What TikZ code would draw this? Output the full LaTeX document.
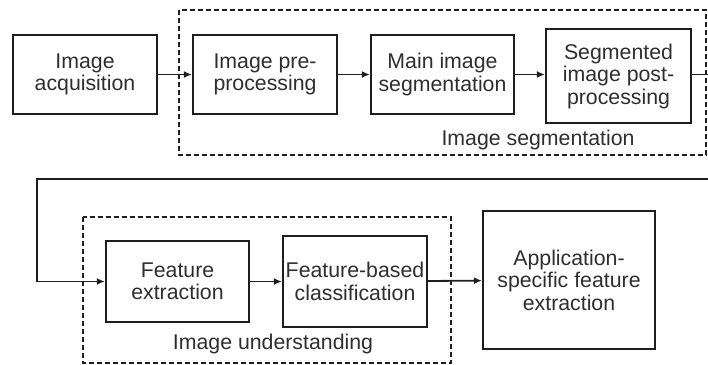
\documentclass[tikz,border=0pt]{standalone}
\usepackage{fontspec}
\setmainfont{Liberation Sans}
\usetikzlibrary{arrows.meta}
\definecolor{ink}{HTML}{1E1E1E}
\definecolor{txt}{HTML}{2E2E2E}
\tikzset{
  stepbox/.style={draw=ink, line width=2.2pt, align=center, text=txt, inner sep=0pt,
    font=\fontsize{21.3}{22.5}\selectfont},
  groupbox/.style={draw=ink, line width=2pt, dash pattern=on 5pt off 3pt},
  grouplabel/.style={text=txt, font=\fontsize{21.3}{22.5}\selectfont, inner sep=0pt},
  arr/.style={draw=ink, line width=1.8pt, -{Latex[length=8pt,width=7pt]}},
}
\begin{document}
\begin{tikzpicture}[x=1pt,y=-1pt]
\useasboundingbox (0,0) rectangle (708,364);
\clip (0,0) rectangle (708,364);
% group boxes
\draw[groupbox] (179,10) rectangle (706,155);
\draw[groupbox] (83,217) rectangle (451,363);
\node[grouplabel] (gl1) at (538,140) {Image segmentation};
\node[grouplabel] (gl2) at (273,344) {Image understanding};
% step boxes
\node[stepbox, minimum width=144pt, minimum height=79pt] (b1) at (85,74.5) {Image\\acquisition};
\node[stepbox, minimum width=144pt, minimum height=79pt] (b2) at (265,74.5) {Image pre-\\processing};
\node[stepbox, minimum width=143pt, minimum height=79pt] (b3) at (442.5,74.5) {Main image\\segmentation};
\node[stepbox, minimum width=145pt, minimum height=94pt] (b4) at (618.5,76) {Segmented\\image post-\\processing};
\node[stepbox, minimum width=143pt, minimum height=81pt] (b5) at (177.5,281.5) {Feature\\extraction};
\node[stepbox, minimum width=144pt, minimum height=91pt] (b6) at (355,281.5) {Feature-based\\classification};
\node[stepbox, minimum width=172pt, minimum height=138pt] (b7) at (569,280) {Application-\\specific feature\\extraction};
% connectors
\draw[arr] (b1) -- (b2);
\draw[arr] (b2) -- (b3);
\draw[arr] (b3.east) -- (b3.east -| b4.west);
\coordinate (r1) at (716,74.5);
\coordinate (r2) at (716,179);
\coordinate (r3) at (37,179);
\draw[arr] (b4.east |- b3.east) -- (r1) -- (r2) -- (r3) |- (b5.west);
\draw[arr] (b5) -- (b6);
\draw[arr] (b6) -- (b7);
\end{tikzpicture}
\end{document}
